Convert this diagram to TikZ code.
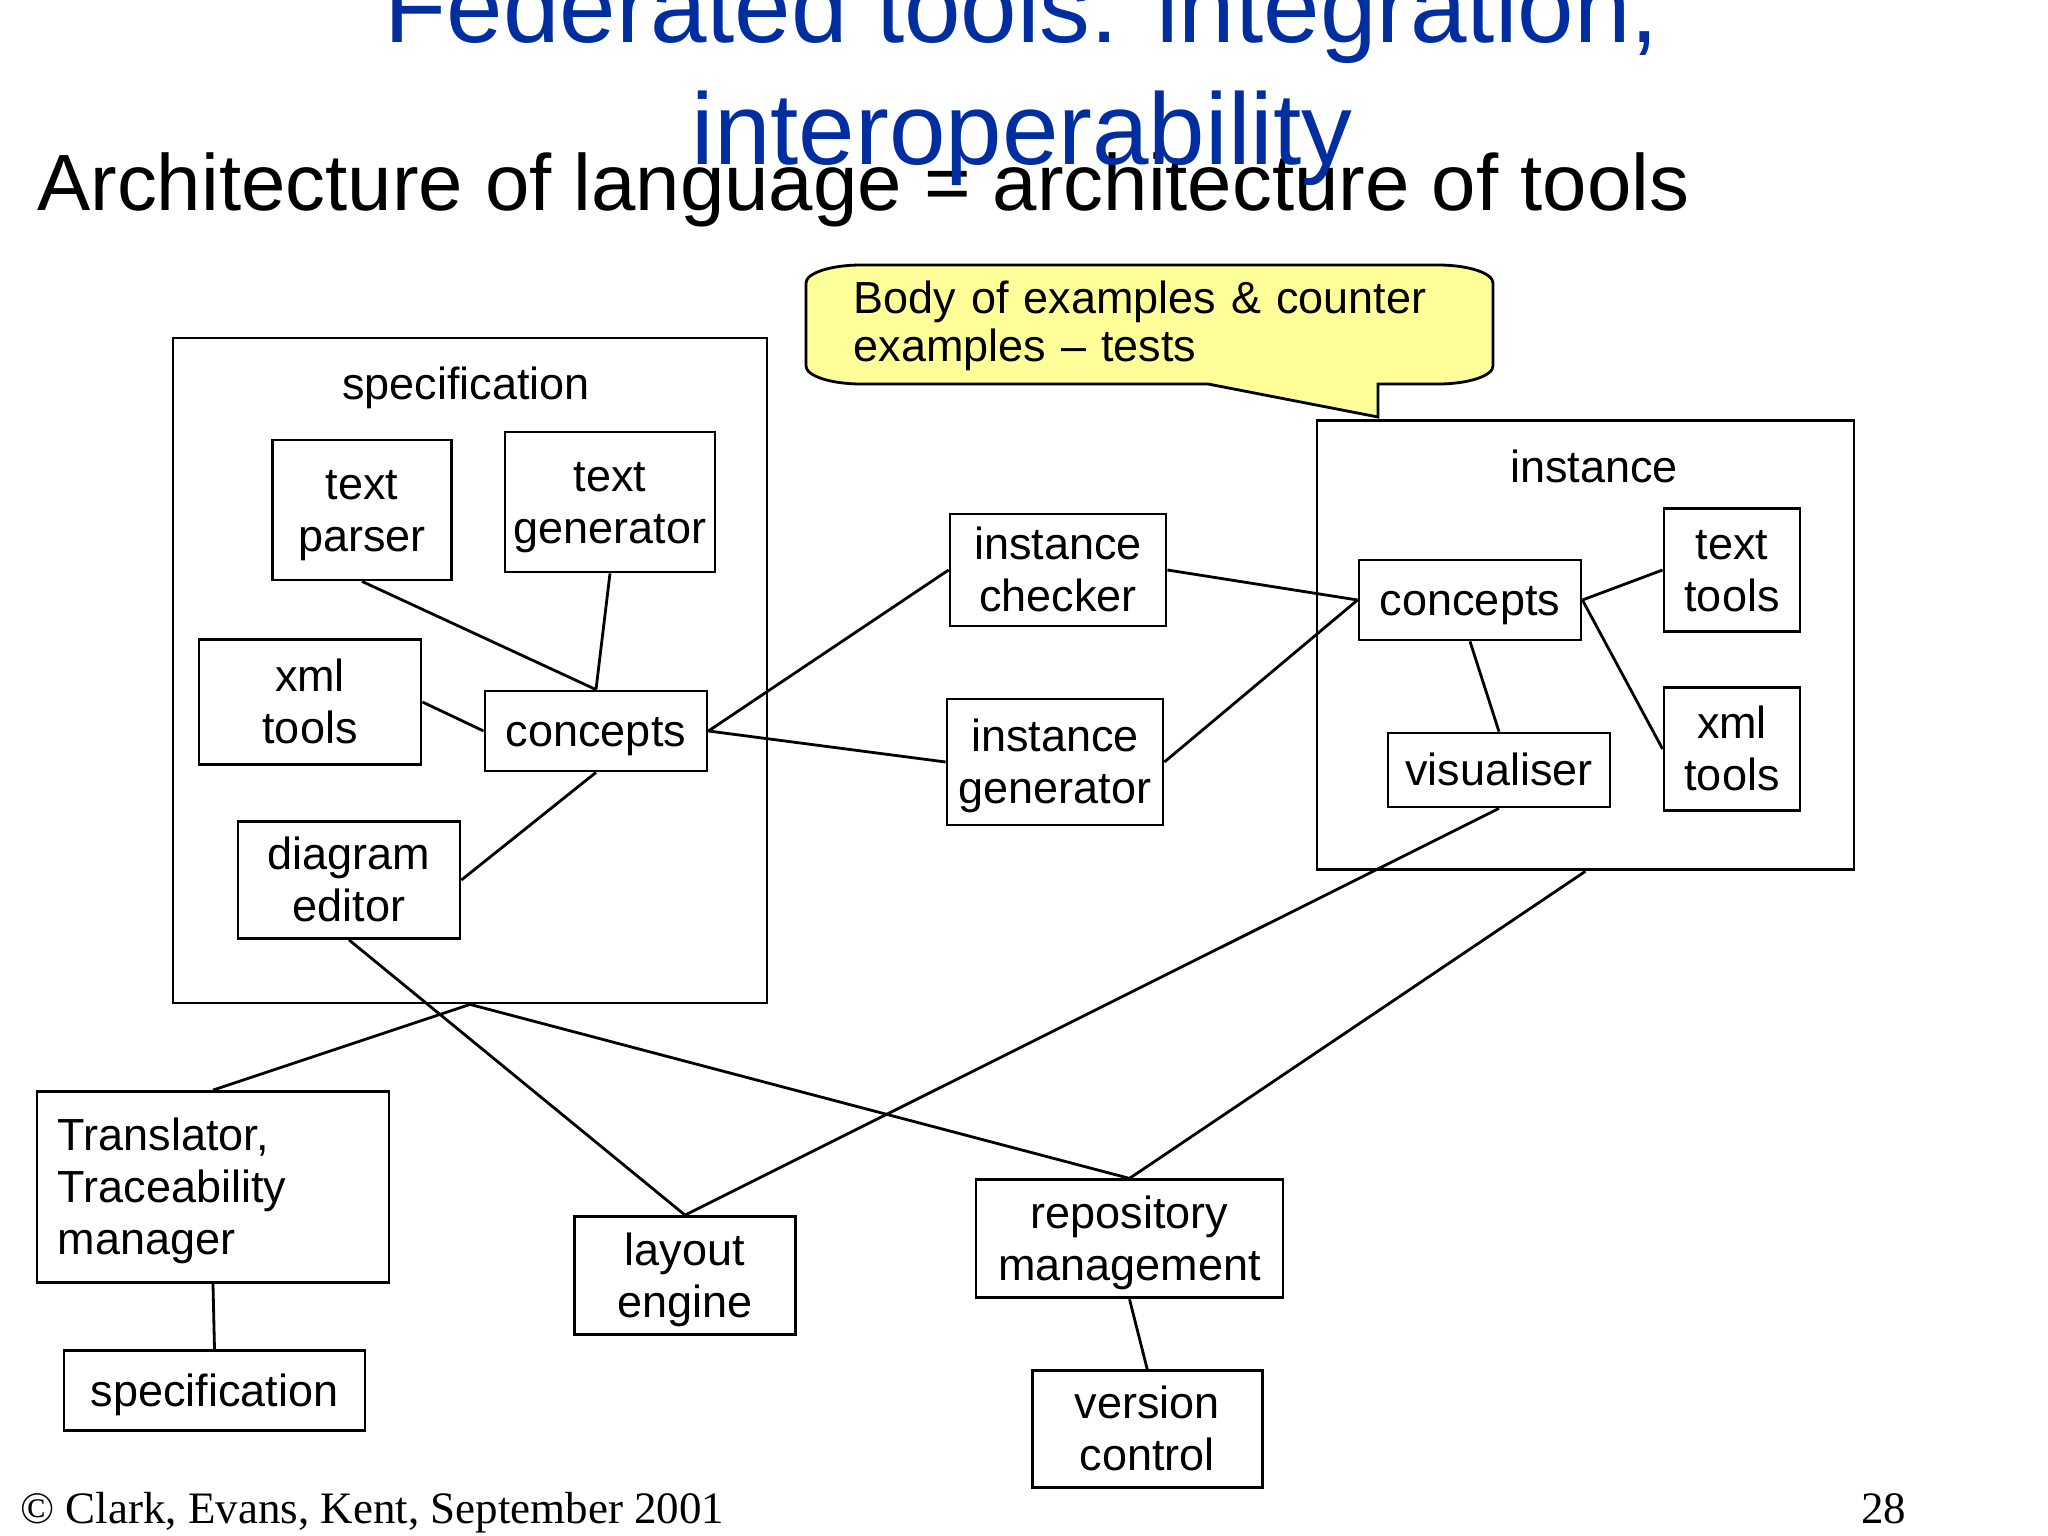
\documentclass[tikz,border=0pt]{standalone}
\usepackage{fontspec}
\setmainfont{Liberation Sans}
\newfontfamily\footfont{Liberation Serif}
\usepackage{xcolor}
\usepackage{tikz}
\usetikzlibrary{positioning}
\definecolor{titleblue}{RGB}{0,45,160}
\definecolor{bubbleyellow}{RGB}{255,255,153}
\tikzset{
  toolbox/.style={rectangle, draw=black, fill=white, inner sep=0pt,
    align=center, line width=0.8pt, font=\fontsize{12.8pt}{14.8pt}\selectfont,
    text height=11.6pt, text depth=2.7pt},
  twolines/.style={text height=26.4pt},
  threelines/.style={text depth=32.3pt},
  framebox/.style={rectangle, draw=black, inner sep=0pt, line width=0.8pt},
  framelabel/.style={anchor=base, inner sep=0pt, font=\fontsize{12.8pt}{14.8pt}\selectfont},
  link/.style={line width=0.8pt, color=black},
  bubble/.style={draw=black, fill=bubbleyellow, line width=0.8pt}
}

\begin{document}
\begin{tikzpicture}[x=1cm, y=-1cm]
  \useasboundingbox (0,0) rectangle (20.48,15.36);
  \clip (0,0) rectangle (20.48,15.36);

  % Headings
  \node[anchor=base west, inner sep=0pt, font=\fontsize{22.7pt}{27pt}\selectfont] (subtitle) at (0.366,2.11) {Architecture of language = architecture of tools};
  \node[anchor=base, inner sep=0pt, text=titleblue, font=\fontsize{28.9pt}{34.6pt}\selectfont] (title1) at (10.22,0.43) {Federated tools: integration,};
  \node[anchor=base, inner sep=0pt, text=titleblue, font=\fontsize{28.9pt}{34.6pt}\selectfont] (title2) at (10.22,1.65) {interoperability};

  % Callout
  \draw[bubble] (8.61,2.65) -- (14.38,2.65) .. controls (14.68,2.65) and (14.93,2.73) .. (14.93,2.83)
    -- (14.93,3.66) .. controls (14.93,3.76) and (14.68,3.84) .. (14.38,3.84)
    -- (13.78,3.84) -- (13.78,4.17) -- (12.08,3.84)
    -- (8.61,3.84) .. controls (8.31,3.84) and (8.06,3.76) .. (8.06,3.66)
    -- (8.06,2.83) .. controls (8.06,2.73) and (8.31,2.65) .. (8.61,2.65) -- cycle;
  \node[anchor=base west, inner sep=0pt, text width=6.2cm, align=left,
    font=\fontsize{12.8pt}{13.4pt}\selectfont] (tests) at (8.53,3.14)
    {Body of examples \& counter\\examples -- tests};

  % Specification frame
  \node[framebox, minimum width=5.94cm, minimum height=6.65cm] (specbox) at (4.70,6.705) {};
  \node[framelabel] (speclabel) at (4.66,4.00) {specification};
  \node[toolbox, twolines, minimum width=1.79cm, minimum height=1.40cm] (tparser) at (3.62,5.10) {text\\parser};
  \node[toolbox, twolines, minimum width=2.10cm, minimum height=1.40cm] (tgen) at (6.10,5.02) {text\\generator};
  \node[toolbox, twolines, minimum width=2.22cm, minimum height=1.25cm] (sxml) at (3.10,7.02) {xml\\tools};
  \node[toolbox, minimum width=2.22cm, minimum height=0.80cm] (sconcepts) at (5.96,7.31) {concepts};
  \node[toolbox, twolines, minimum width=2.22cm, minimum height=1.17cm] (dedit) at (3.49,8.80) {diagram\\editor};

  % Checker and generator
  \node[toolbox, twolines, minimum width=2.16cm, minimum height=1.12cm] (ichecker) at (10.58,5.70) {instance\\checker};
  \node[toolbox, twolines, minimum width=2.16cm, minimum height=1.26cm] (igen) at (10.55,7.62) {instance\\generator};

  % Instance frame
  \node[framebox, minimum width=5.37cm, minimum height=4.49cm] (instbox) at (15.854,6.454) {};
  \node[framelabel] (instlabel) at (15.94,4.82) {instance};
  \node[toolbox, minimum width=2.22cm, minimum height=0.80cm] (iconcepts) at (14.70,6.00) {concepts};
  \node[toolbox, twolines, minimum width=1.36cm, minimum height=1.23cm] (ttools) at (17.32,5.70) {text\\tools};
  \node[toolbox, twolines, minimum width=1.36cm, minimum height=1.23cm] (ixml) at (17.32,7.49) {xml\\tools};
  \node[toolbox, minimum width=2.22cm, minimum height=0.74cm] (visual) at (14.99,7.70) {visualiser};

  % Lower tools
  \node[toolbox, threelines, minimum width=3.52cm, minimum height=1.91cm, text width=3.10cm,
    inner xsep=0.21cm, align=left] (translator) at (2.13,11.87) {Translator,\\Traceability\\manager};
  \node[toolbox, minimum width=3.01cm, minimum height=0.80cm] (specbot) at (2.145,13.907) {specification};
  \node[toolbox, twolines, minimum width=2.21cm, minimum height=1.18cm] (layout) at (6.85,12.755) {layout\\engine};
  \node[toolbox, twolines, minimum width=3.07cm, minimum height=1.18cm] (repo) at (11.295,12.388) {repository\\management};
  \node[toolbox, twolines, minimum width=2.30cm, minimum height=1.17cm] (vcontrol) at (11.472,14.29) {version\\control};

  % Connectors
  \draw[link] (tparser.south) -- (sconcepts.north);
  \draw[link] (tgen.south) -- (sconcepts.north);
  \draw[link] (sxml.east) -- (sconcepts.west);
  \draw[link] (sconcepts.south) -- (dedit.east);
  \draw[link] (sconcepts.east) -- (ichecker.west);
  \draw[link] (sconcepts.east) -- (igen.west);
  \draw[link] (ichecker.east) -- (iconcepts.west);
  \draw[link] (igen.east) -- (iconcepts.west);
  \draw[link] (iconcepts.east) -- (ttools.west);
  \draw[link] (iconcepts.east) -- (ixml.west);
  \draw[link] (iconcepts.south) -- (visual.north);
  \draw[link] (visual.south) -- (layout.north);
  \draw[link] (dedit.south) -- (layout.north);
  \draw[link] (instbox.south) -- (repo.north);
  \draw[link] (specbox.south) -- (translator.north);
  \draw[link] (specbox.south) -- (repo.north);
  \draw[link] (translator.south) -- (specbot.north);
  \draw[link] (repo.south) -- (vcontrol.north);

  % Footer
  \node[anchor=base west, inner sep=0pt, font=\footfont\fontsize{12.8pt}{15pt}\selectfont] (copyright) at (0.196,15.23) {© Clark, Evans, Kent, September 2001};
  \node[anchor=base east, inner sep=0pt, font=\footfont\fontsize{12.8pt}{15pt}\selectfont] (pagenum) at (19.07,15.23) {28};
\end{tikzpicture}
\end{document}
